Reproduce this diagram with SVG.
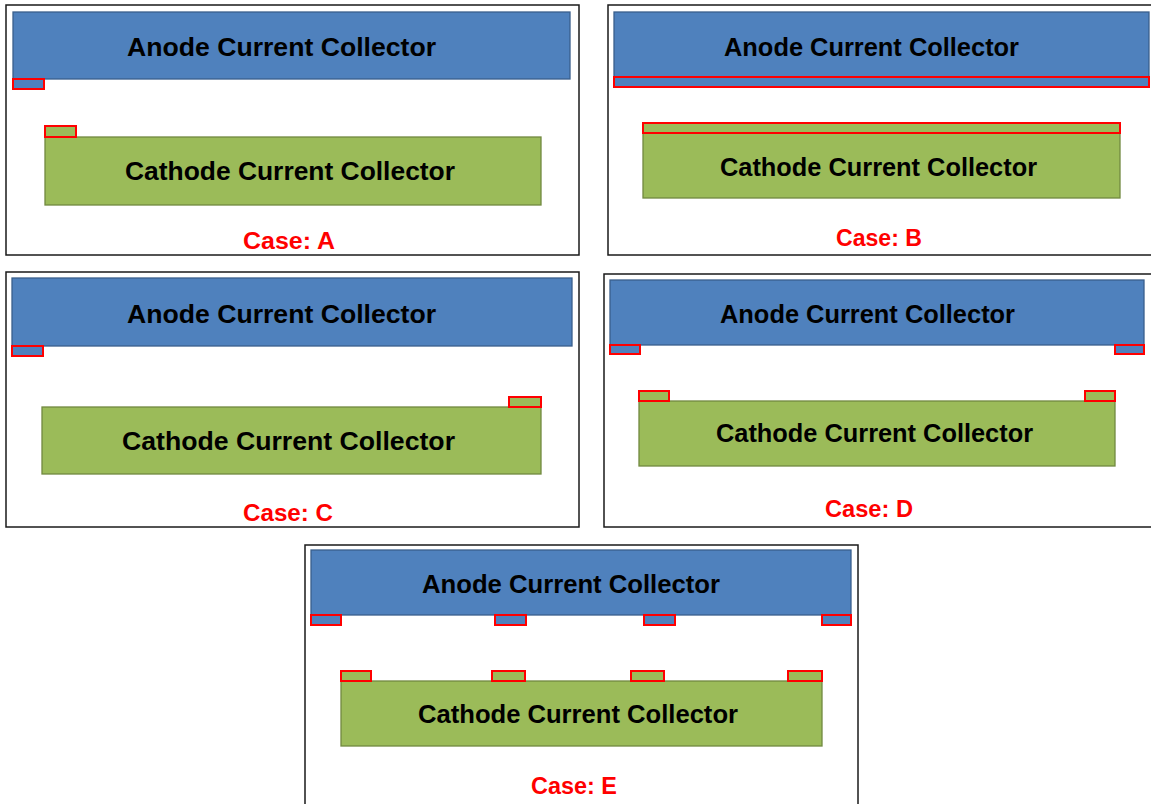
<svg xmlns="http://www.w3.org/2000/svg" width="1151" height="804" viewBox="0 0 1151 804">
<style>
.frame{fill:#fff;stroke:#1a1a1a;stroke-width:1.5}
.anode{fill:#4F81BD;stroke:#3A5F8C;stroke-width:1.3}
.cath{fill:#9BBB59;stroke:#71893F;stroke-width:1.3}
.atab{fill:#4F81BD;stroke:#FF0000;stroke-width:2}
.ctab{fill:#9BBB59;stroke:#FF0000;stroke-width:2}
.lbl{font-family:"Liberation Sans",Arial,sans-serif;font-weight:bold;font-size:26.5px;fill:#000;text-anchor:middle}
.lbs{font-family:"Liberation Sans",Arial,sans-serif;font-weight:bold;font-size:25.5px;fill:#000;text-anchor:middle}
.case{font-family:"Liberation Sans",Arial,sans-serif;font-weight:bold;font-size:24.7px;fill:#FF0000;text-anchor:middle}
</style>
<rect width="1151" height="804" fill="#fff"/>
<g id="caseA">
<rect class="frame" x="6" y="5" width="573" height="250"/>
<rect class="anode" x="13" y="12" width="557" height="67"/>
<rect class="atab" x="13" y="79" width="31" height="10"/>
<text class="lbl" x="281.5" y="55.5" textLength="309" lengthAdjust="spacingAndGlyphs">Anode Current Collector</text>
<rect class="cath" x="45" y="137" width="496" height="68"/>
<rect class="ctab" x="45" y="126" width="31" height="11"/>
<text class="lbl" x="290" y="179.5" textLength="330" lengthAdjust="spacingAndGlyphs">Cathode Current Collector</text>
<text class="case" x="289" y="249" textLength="92" lengthAdjust="spacingAndGlyphs">Case: A</text>
</g>
<g id="caseB">
<rect class="frame" x="608" y="5" width="545" height="250"/>
<rect class="anode" x="614" y="12" width="535" height="75"/>
<rect class="atab" x="614" y="77" width="535" height="10"/>
<text class="lbs" x="871.5" y="55.5" textLength="295" lengthAdjust="spacingAndGlyphs">Anode Current Collector</text>
<rect class="cath" x="643" y="133" width="477" height="65"/>
<rect class="ctab" x="643" y="123" width="477" height="10"/>
<text class="lbs" x="878.5" y="175.5" textLength="317" lengthAdjust="spacingAndGlyphs">Cathode Current Collector</text>
<text class="case" x="879" y="246" textLength="86" lengthAdjust="spacingAndGlyphs">Case: B</text>
</g>
<g id="caseC">
<rect class="frame" x="6" y="272" width="573" height="255"/>
<rect class="anode" x="12" y="278" width="560" height="68"/>
<rect class="atab" x="12" y="346" width="31" height="10"/>
<text class="lbl" x="281.5" y="322.5" textLength="309" lengthAdjust="spacingAndGlyphs">Anode Current Collector</text>
<rect class="cath" x="42" y="407" width="499" height="67"/>
<rect class="ctab" x="509" y="397" width="32" height="10"/>
<text class="lbl" x="288.5" y="449.5" textLength="333" lengthAdjust="spacingAndGlyphs">Cathode Current Collector</text>
<text class="case" x="288" y="521" textLength="90" lengthAdjust="spacingAndGlyphs">Case: C</text>
</g>
<g id="caseD">
<rect class="frame" x="604" y="274" width="549" height="253"/>
<rect class="anode" x="610" y="280" width="534" height="65"/>
<rect class="atab" x="610" y="345" width="30" height="9"/>
<rect class="atab" x="1115" y="345" width="29" height="9"/>
<text class="lbs" x="867.5" y="322.5" textLength="295" lengthAdjust="spacingAndGlyphs">Anode Current Collector</text>
<rect class="cath" x="639" y="401" width="476" height="65"/>
<rect class="ctab" x="639" y="391" width="30" height="10"/>
<rect class="ctab" x="1085" y="391" width="30" height="10"/>
<text class="lbs" x="874.5" y="441.5" textLength="317" lengthAdjust="spacingAndGlyphs">Cathode Current Collector</text>
<text class="case" x="869" y="517" textLength="88" lengthAdjust="spacingAndGlyphs">Case: D</text>
</g>
<g id="caseE">
<rect class="frame" x="305" y="545" width="553" height="270"/>
<rect class="anode" x="311" y="550" width="540" height="65"/>
<rect class="atab" x="311" y="615" width="30" height="10"/>
<rect class="atab" x="495" y="615" width="31" height="10"/>
<rect class="atab" x="644" y="615" width="31" height="10"/>
<rect class="atab" x="822" y="615" width="29" height="10"/>
<text class="lbs" x="571" y="592.5" textLength="298" lengthAdjust="spacingAndGlyphs">Anode Current Collector</text>
<rect class="cath" x="341" y="681" width="481" height="65"/>
<rect class="ctab" x="341" y="671" width="30" height="10"/>
<rect class="ctab" x="492" y="671" width="33" height="10"/>
<rect class="ctab" x="631" y="671" width="33" height="10"/>
<rect class="ctab" x="788" y="671" width="34" height="10"/>
<text class="lbs" x="578" y="722.5" textLength="320" lengthAdjust="spacingAndGlyphs">Cathode Current Collector</text>
<text class="case" x="574" y="794" textLength="86" lengthAdjust="spacingAndGlyphs">Case: E</text>
</g>
</svg>
